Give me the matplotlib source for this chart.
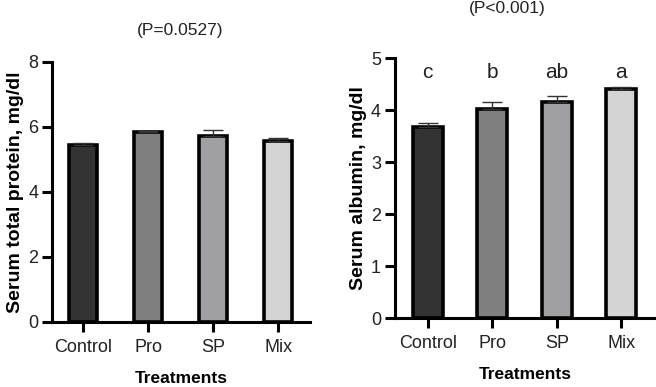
import matplotlib
matplotlib.use("Agg")
import matplotlib.pyplot as plt
import numpy as np

plt.rcParams['font.family'] = ['Liberation Sans', 'DejaVu Sans']

treatments = ["Control", "Pro", "SP", "Mix"]
bar_colors = ["#333333", "#7f7f7f", "#a0a0a2", "#d4d4d4"]

protein = [5.45, 5.83, 5.72, 5.58]
protein_err = [0.05, 0.05, 0.18, 0.09]

albumin = [3.68, 4.03, 4.16, 4.40]
albumin_err = [0.07, 0.12, 0.11, 0.045]
albumin_letters = ["c", "b", "ab", "a"]

fig = plt.figure(figsize=(6.56, 3.87), dpi=100)
ax1 = fig.add_axes([0.0793, 0.168, 0.3933, 0.672])
ax2 = fig.add_axes([0.602, 0.178, 0.396, 0.672])

def draw_panel(ax, vals, errs, width, ylim, yticks, ylabel):
	x = np.arange(len(treatments))
	ax.bar(x, vals, width=width, color=bar_colors, edgecolor="black",
		linewidth=2.6, zorder=3)
	ax.errorbar(x, vals, yerr=[np.zeros(len(errs)), errs], fmt="none",
		ecolor="#333333", elinewidth=1.0, capsize=7, capthick=1.0, zorder=4)
	ax.set_ylim(*ylim)
	ax.set_yticks(yticks)
	ax.set_xticks(x)
	ax.set_xticklabels(treatments)
	for s in ["top", "right"]:
		ax.spines[s].set_visible(False)
	for s in ["left", "bottom"]:
		ax.spines[s].set_linewidth(2.2)
	ax.tick_params(axis="both", width=2.2, length=7, labelsize=13, pad=3,
		colors="black", labelcolor="#222222")
	ax.tick_params(axis="x", pad=5)
	ax.set_ylabel(ylabel, fontsize=14, fontweight="bold", labelpad=3)
	ax.set_xlabel("Treatments", fontsize=12.5, fontweight="bold", labelpad=11)

draw_panel(ax1, protein, protein_err, 0.43, (0, 8), [0, 2, 4, 6, 8],
	"Serum total protein, mg/dl")
ax1.set_xlim(-0.48, 3.49)

draw_panel(ax2, albumin, albumin_err, 0.46, (0, 5), [0, 1, 2, 3, 4, 5],
	"Serum albumin, mg/dl")
ax2.set_xlim(-0.51, 3.52)
for i, lab in enumerate(albumin_letters):
	ax2.text(i, 4.73, lab, ha="center", va="center", fontsize=15, color="#222222")

fig.text(180 / 656, 1 - 30 / 387, "(P=0.0527)", ha="center", va="center", fontsize=12.5, color="#222222")
fig.text(507 / 656, 1 - 8 / 387, "(P<0.001)", ha="center", va="center", fontsize=12.5, color="#222222")

fig.savefig("out.png", dpi=100)
